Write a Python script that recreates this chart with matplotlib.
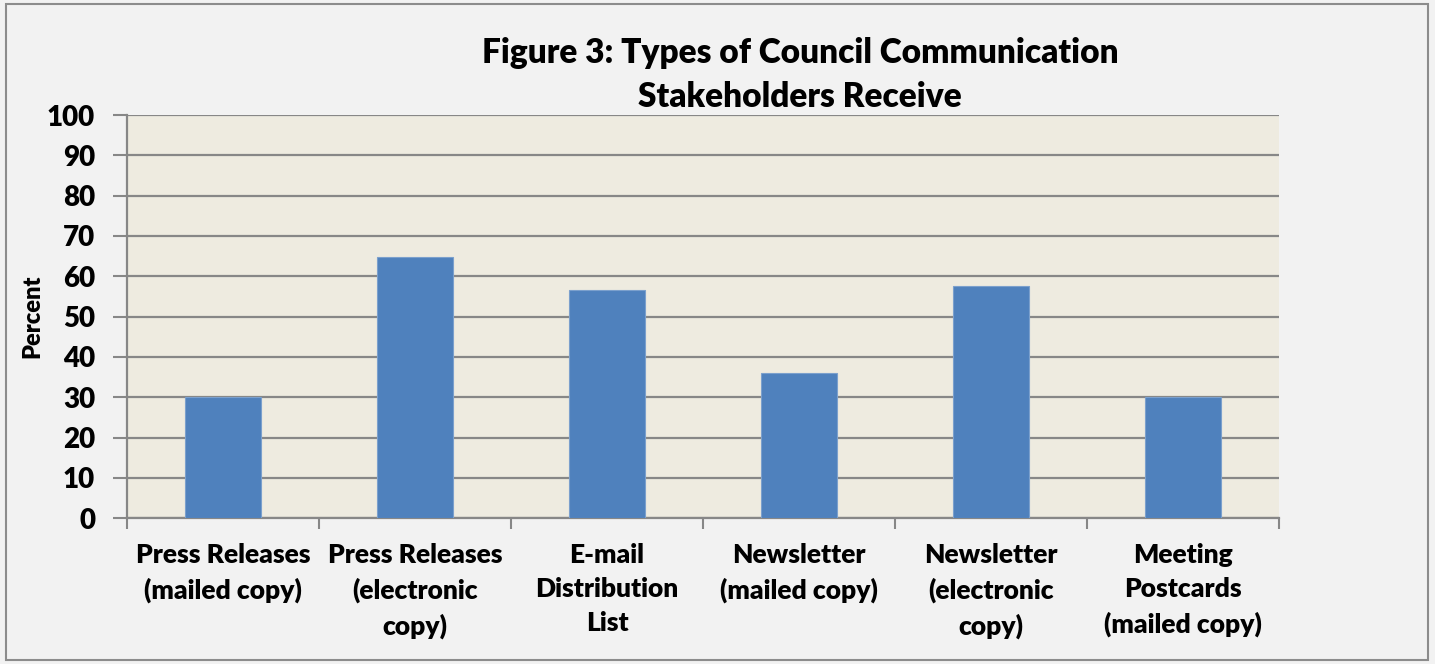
import numpy as np
import matplotlib.pyplot as plt
from matplotlib.patches import Rectangle

# data
categories = ['Press Releases\n(mailed copy)', 'Press Releases\n(electronic\ncopy)',
              'E-mail\nDistribution\nList', 'Newsletter\n(mailed copy)',
              'Newsletter\n(electronic\ncopy)', 'Meeting\nPostcards\n(mailed copy)']
percent = [30.0, 64.7, 56.7, 36.0, 57.6, 30.0]
y_ticks = list(range(0, 101, 10))

plt.rcParams['font.family'] = ['Lato', 'DejaVu Sans']
W = 'heavy'

fig = plt.figure(figsize=(14.35, 6.64), dpi=100)
fig.patch.set_facecolor('#f2f2f2')
fig.patches.append(Rectangle((0.004, 0.006), 0.991, 0.988, transform=fig.transFigure,
                             fill=False, edgecolor='#8c8c8c', linewidth=1.5))

ax = fig.add_axes([0.0885, 0.2194, 0.8028, 0.6074])
ax.set_facecolor('#eeebe0')

x = np.arange(len(categories))
ax.bar(x, percent, width=0.4, color='#4f81bd', edgecolor='#7ba0cd', linewidth=0.8, zorder=3)

ax.set_xlim(-0.5, len(categories) - 0.5)
ax.set_ylim(0, 100)
ax.set_yticks(y_ticks)
ax.set_yticklabels([str(t) for t in y_ticks], fontsize=20, fontweight=W)
ax.yaxis.grid(True, color='#878787', linewidth=1.6, zorder=1)
ax.set_axisbelow(True)

# ticks between categories, labels at centres
ax.set_xticks(np.arange(-0.5, len(categories), 1.0))
ax.set_xticklabels([])
ax.set_xticks(x, minor=True)
ax.set_xticklabels(categories, minor=True, fontsize=19, fontweight=W, linespacing=1.5, va='top')
ax.tick_params(axis='x', which='minor', length=0, pad=18)
ax.tick_params(axis='x', which='major', length=8, width=1.5, color='#878787')
ax.tick_params(axis='y', length=10, width=1.5, color='#878787', pad=13)

for s in ['top', 'right']:
    ax.spines[s].set_visible(False)
for s in ['left', 'bottom']:
    ax.spines[s].set_color('#878787')
    ax.spines[s].set_linewidth(1.6)

ax.set_ylabel('Percent', fontsize=17, fontweight=W)
ax.yaxis.set_label_coords(-0.073, 0.5)

fig.text(800 / 1435, 1 - 75 / 664, 'Figure 3: Types of Council Communication\nStakeholders Receive',
         ha='center', va='center', fontsize=24, fontweight=W, linespacing=1.45)

plt.savefig('out.png', dpi=100, facecolor=fig.get_facecolor())
